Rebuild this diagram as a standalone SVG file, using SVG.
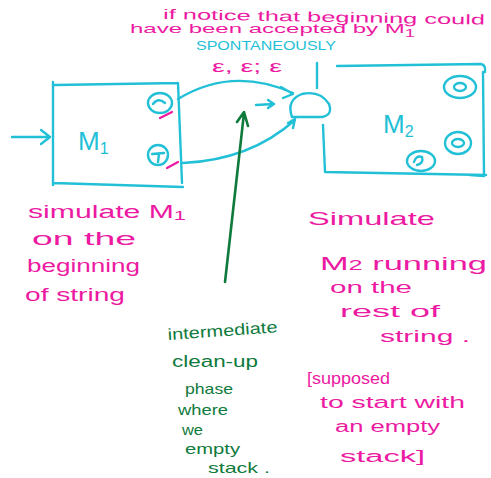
<svg xmlns="http://www.w3.org/2000/svg" width="491" height="478" viewBox="0 0 491 478">
  <style>
    .ink { fill: none; stroke: #22c0d6; stroke-width: 2.4; stroke-linecap: round; stroke-linejoin: round; }
    .mark { fill: none; stroke: #ec1aa2; stroke-width: 2.2; stroke-linecap: round; }
    .green { fill: none; stroke: #0e7a3c; stroke-width: 2.6; stroke-linecap: round; stroke-linejoin: round; }
    .pink { fill: #ec1aa2; font-family: "Liberation Sans", "DejaVu Sans", sans-serif; }
    .cyan { fill: #22c0d6; font-family: "Liberation Sans", "DejaVu Sans", sans-serif; }
    .leaf { fill: #0e7a3c; font-family: "Liberation Sans", "DejaVu Sans", sans-serif; }
  </style>
  <rect width="491" height="478" fill="#ffffff"/>

  <!-- note above the machines -->
  <g id="note">
    <text class="pink" x="163" y="19" font-size="14" textLength="322" lengthAdjust="spacingAndGlyphs" transform="rotate(1 163 19)">if notice that beginning could</text>
    <text class="pink" x="130" y="33" font-size="13" textLength="285" lengthAdjust="spacingAndGlyphs">have been accepted by M<tspan font-size="10" dy="4">1</tspan></text>
    <text class="cyan" x="196" y="50" font-size="12" textLength="140" lengthAdjust="spacingAndGlyphs">SPONTANEOUSLY</text>
  </g>

  <!-- machine M1 -->
  <g id="m1">
    <path class="ink" d="M55 85 L178 83 M53 82 L53 185 M53 183 L183 187 M178 83 L182 183"/>
    <text class="cyan" x="78" y="150" font-size="26">M<tspan font-size="16" dy="4">1</tspan></text>
    <ellipse class="ink" cx="160" cy="103" rx="12" ry="10"/>
    <path class="ink" d="M153 104 Q158 97 165 103"/>
    <ellipse class="ink" cx="158" cy="155" rx="10" ry="10"/>
    <path class="ink" d="M152 154 L164 153 M159 154 L158 162"/>
    <path class="mark" d="M160 118 L172 112 M167 168 L178 162"/>
  </g>

  <!-- intermediate state -->
  <g id="mid">
    <path class="ink" d="M292 117 Q286 100 302 94 Q320 90 329 104 Q333 115 322 117 Z"/>
    <path class="ink" d="M317 63 L317 88"/>
  </g>

  <!-- machine M2 -->
  <g id="m2">
    <path class="ink" d="M337 66 L481 64 Q486 65 485 72 M483 72 L484 176 L470 175 M323 125 L325 172 L486 175"/>
    <text class="cyan" x="383" y="133" font-size="26">M<tspan font-size="16" dy="4">2</tspan></text>
    <ellipse class="ink" cx="460" cy="87" rx="16" ry="11"/>
    <ellipse class="ink" cx="460" cy="87" rx="6" ry="4"/>
    <ellipse class="ink" cx="458" cy="143" rx="13" ry="11"/>
    <ellipse class="ink" cx="458" cy="143" rx="6" ry="4"/>
    <ellipse class="ink" cx="421" cy="161" rx="14" ry="10"/>
    <path class="ink" d="M414 162 Q416 155 422 157 Q424 163 417 165"/>
  </g>

  <!-- connectors -->
  <g id="connectors">
    <path class="ink" d="M12 137 L50 137 M41 130 L50 137 L41 144"/>
    <path class="ink" d="M178 99 Q232 66 293 93 M281 87 L293 94 L283 98"/>
    <path class="ink" d="M183 163 Q250 160 295 120 M288 123 L295 119 L293 128"/>
    <path class="ink" d="M256 105 L274 104 M268 100 L274 104 L268 108"/>
    <path class="green" d="M225 282 L244 113 M237 122 L244 112 L248 126"/>
    <text class="pink" x="212" y="72" font-size="16" textLength="70" lengthAdjust="spacingAndGlyphs">ε, ε; ε</text>
  </g>

  <!-- left caption -->
  <g id="left-note">
    <text class="pink" x="28" y="218" font-size="18" textLength="158" lengthAdjust="spacingAndGlyphs">simulate M<tspan font-size="13" dy="2">1</tspan></text>
    <text class="pink" x="32" y="245" font-size="18" textLength="104" lengthAdjust="spacingAndGlyphs">on the</text>
    <text class="pink" x="27" y="272" font-size="18" textLength="113" lengthAdjust="spacingAndGlyphs">beginning</text>
    <text class="pink" x="25" y="301" font-size="18" textLength="100" lengthAdjust="spacingAndGlyphs">of string</text>
  </g>

  <!-- right caption -->
  <g id="right-note">
    <text class="pink" x="308" y="225" font-size="19" textLength="127" lengthAdjust="spacingAndGlyphs">Simulate</text>
    <text class="pink" x="320" y="270" font-size="19" textLength="167" lengthAdjust="spacingAndGlyphs">M<tspan font-size="14">2</tspan> running</text>
    <text class="pink" x="330" y="293" font-size="17" textLength="82" lengthAdjust="spacingAndGlyphs">on the</text>
    <text class="pink" x="340" y="317" font-size="17" textLength="100" lengthAdjust="spacingAndGlyphs">rest of</text>
    <text class="pink" x="380" y="342" font-size="17" textLength="90" lengthAdjust="spacingAndGlyphs">string .</text>
    <text class="pink" x="307" y="384" font-size="16" textLength="83" lengthAdjust="spacingAndGlyphs">[supposed</text>
    <text class="pink" x="320" y="408" font-size="16" textLength="145" lengthAdjust="spacingAndGlyphs">to start with</text>
    <text class="pink" x="335" y="432" font-size="16" textLength="105" lengthAdjust="spacingAndGlyphs">an empty</text>
    <text class="pink" x="340" y="462" font-size="16" textLength="85" lengthAdjust="spacingAndGlyphs">stack]</text>
  </g>

  <!-- middle caption -->
  <g id="mid-note">
    <text class="leaf" x="168" y="340" font-size="16" textLength="110" lengthAdjust="spacingAndGlyphs" transform="rotate(-4 168 340)">intermediate</text>
    <text class="leaf" x="172" y="367" font-size="16" textLength="86" lengthAdjust="spacingAndGlyphs">clean-up</text>
    <text class="leaf" x="185" y="394" font-size="15" textLength="48" lengthAdjust="spacingAndGlyphs">phase</text>
    <text class="leaf" x="178" y="415" font-size="15" textLength="50" lengthAdjust="spacingAndGlyphs">where</text>
    <text class="leaf" x="182" y="435" font-size="15" textLength="21" lengthAdjust="spacingAndGlyphs">we</text>
    <text class="leaf" x="185" y="454" font-size="15" textLength="55" lengthAdjust="spacingAndGlyphs">empty</text>
    <text class="leaf" x="208" y="473" font-size="15" textLength="62" lengthAdjust="spacingAndGlyphs">stack .</text>
  </g>
</svg>
